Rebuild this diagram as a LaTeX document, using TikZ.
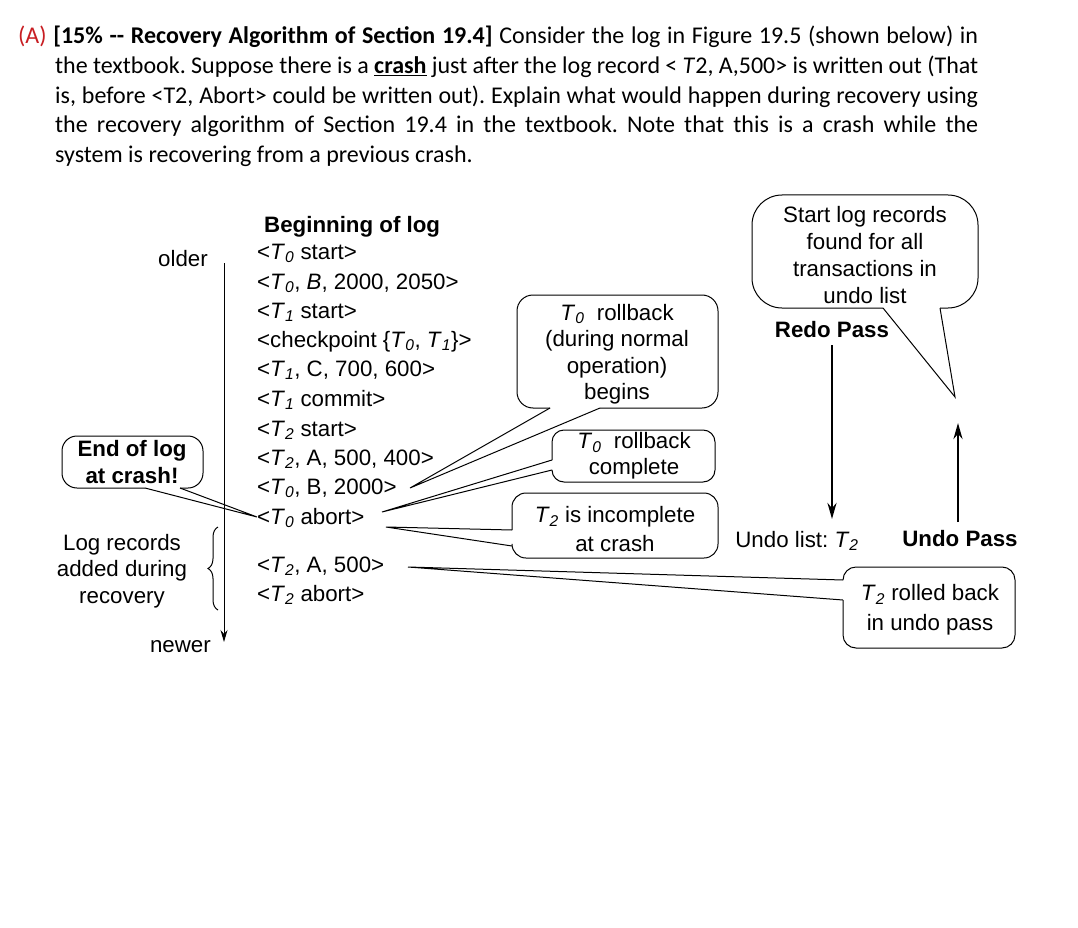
\documentclass[tikz,border=0pt]{standalone}
\usepackage{fontspec}
\setmainfont{Carlito}
\newfontfamily\arialf{Liberation Sans}
\usetikzlibrary{decorations.pathreplacing,arrows.meta}
\newcommand{\Tsb}[1]{\textit{T}\textsubscript{\textit{#1}}}
\definecolor{qred}{RGB}{200,30,35}
\frenchspacing
\begin{document}
\begin{tikzpicture}[x=1pt,y=-1pt,
  q/.style={font=\fontsize{24}{28}\selectfont, inner sep=0pt, anchor=base west},
  dg/.style={font=\arialf\fontsize{22.3}{27}\selectfont, inner sep=0pt},
  lg/.style={dg, anchor=base west},
  bx/.style={line width=1pt, rounded corners=#1},
  tl/.style={line width=1pt, line join=miter},
  pass/.style={line width=2.5pt, -{Stealth[length=16pt,width=9pt]}}]
\useasboundingbox (0,0) rectangle (1078,928);
\fill[white] (0,0) rectangle (1078,928);
% question text
\node[q] (q1) at (18,44) {\makebox[960pt][s]{\textcolor{qred}{(A)} \textbf{[15\% -{}- Recovery Algorithm of Section 19.4]} Consider the log in Figure 19.5 (shown below) in}};
\node[q] (q2) at (55,74) {\makebox[923pt][s]{the textbook. Suppose there is a \underline{\textbf{crash}} just after the log record < \textit{T}2, A,500> is written out (That}};
\node[q] (q3) at (55,103.5) {\makebox[923pt][s]{is, before <T2, Abort> could be written out). Explain what would happen during recovery using}};
\node[q] (q4) at (55,133) {\makebox[923pt][s]{the recovery algorithm of Section 19.4 in the textbook. Note that this is a crash while the}};
\node[q] (q5) at (55,162.5) {system is recovering from a previous crash.};
% log
\node[lg, font=\arialf\bfseries\fontsize{22.3}{27}\selectfont] (beg) at (264,232) {Beginning of log};
\node[lg] (l1) at (257,259) {<\Tsb{0} start>};
\node[lg] (l2) at (257,289) {<\Tsb{0}, \textit{B}, 2000, 2050>};
\node[lg] (l3) at (257,318) {<\Tsb{1} start>};
\node[lg] (l4) at (257,347) {<checkpoint \{\Tsb{0}, \Tsb{1}\}>};
\node[lg] (l5) at (257,376) {<\Tsb{1}, C, 700, 600>};
\node[lg] (l6) at (257,406) {<\Tsb{1} commit>};
\node[lg] (l7) at (257,436) {<\Tsb{2} start>};
\node[lg] (l8) at (257,465) {<\Tsb{2}, A, 500, 400>};
\node[lg] (l9) at (257,494) {<\Tsb{0}, B, 2000>};
\node[lg] (l10) at (257,524) {<\Tsb{0} abort>};
\node[lg] (l11) at (257,572) {<\Tsb{2}, A, 500>};
\node[lg] (l12) at (257,601) {<\Tsb{2} abort>};
% time axis
\node[dg, anchor=base east] (older) at (208,266) {older};
\node[dg, anchor=base east] (newer) at (211,652) {newer};
\coordinate (axT) at (224,263);
\coordinate (axB) at (224,642);
\draw[line width=1pt, -{Stealth[length=12pt,width=7pt]}] (axT) -- (axB);
% brace
\coordinate (brT) at (218,527);
\coordinate (brB) at (218,610);
\draw[line width=1pt, decorate, decoration={brace, amplitude=10pt}] (brB) -- (brT);
\node[dg, align=center, font=\arialf\fontsize{22.3}{26.5}\selectfont] (lrec) at (122,571) {Log records\\added during\\recovery};
% End of log callout
\coordinate (eTip) at (257,517);
\draw[bx=15pt] (180,488) -- (203,488) -- (203,436) -- (62,436) -- (62,488) -- (145,488);
\draw[tl] (145,488) -- (eTip) -- (180,488);
\node[dg, align=center, font=\arialf\bfseries\fontsize{22.3}{27}\selectfont] (eol) at (132,462) {End of log\\at crash!};
% Box 1
\coordinate (b1Tip) at (410,488);
\draw[bx=16pt] (600,408) -- (718,408) -- (718,295) -- (517,295) -- (517,408) -- (550,408);
\draw[tl] (550,408) -- (b1Tip) -- (600,408);
\node[dg, align=center, font=\arialf\fontsize{22.3}{26.5}\selectfont] (b1) at (617,354) {\Tsb{0}\ \ rollback\\(during normal\\operation)\\begins};
% Box 2
\coordinate (b2Tip) at (382,512);
\draw[bx=12pt] (552,460) -- (552,430) -- (715,430) -- (715,482) -- (552,482) -- (552,470);
\draw[tl] (552,460) -- (b2Tip) -- (552,470);
\node[dg, align=center, font=\arialf\fontsize{22.3}{26}\selectfont] (b2) at (634,456) {\Tsb{0}\ \ rollback\\complete};
% Box 3
\coordinate (b3Tip) at (386,527);
\draw[bx=14pt] (512,530) -- (512,493) -- (718,493) -- (718,558) -- (512,558) -- (512,546);
\draw[tl] (512,530) -- (b3Tip) -- (512,546);
\node[dg, align=center, font=\arialf\fontsize{22.3}{29}\selectfont] (b3) at (615,529) {\Tsb{2} is incomplete\\at crash};
% Box 4
\coordinate (b4Tip) at (408,567);
\draw[bx=13pt] (843,580) -- (843,567) -- (1015,567) -- (1015,648) -- (843,648) -- (843,600);
\draw[tl] (843,580) -- (b4Tip) -- (843,600);
\node[dg, align=center, font=\arialf\fontsize{22.3}{30}\selectfont] (b4) at (930,610) {\Tsb{2} rolled back\\in undo pass};
% Box 5
\coordinate (b5Tip) at (955,397);
\draw[bx=30pt] (940,308) -- (978,308) -- (978,195) -- (752,195) -- (752,308) -- (883,308);
\draw[tl] (883,308) -- (b5Tip) -- (940,308);
\node[dg, align=center, font=\arialf\fontsize{22.3}{27}\selectfont] (b5) at (865,255) {Start log records\\found for all\\transactions in\\undo list};
% passes
\node[dg, font=\arialf\bfseries\fontsize{22.3}{27}\selectfont] (redo) at (832,330) {Redo Pass};
\coordinate (rdT) at (832,345);
\coordinate (rdB) at (832,519);
\draw[pass] (rdT) -- (rdB);
\node[dg] (ulist) at (797,541) {Undo list: \Tsb{2}};
\node[dg, font=\arialf\bfseries\fontsize{22.3}{27}\selectfont] (undo) at (960,539) {Undo Pass};
\coordinate (udB) at (958,522);
\coordinate (udT) at (958,423);
\draw[pass] (udB) -- (udT);
\end{tikzpicture}
\end{document}
